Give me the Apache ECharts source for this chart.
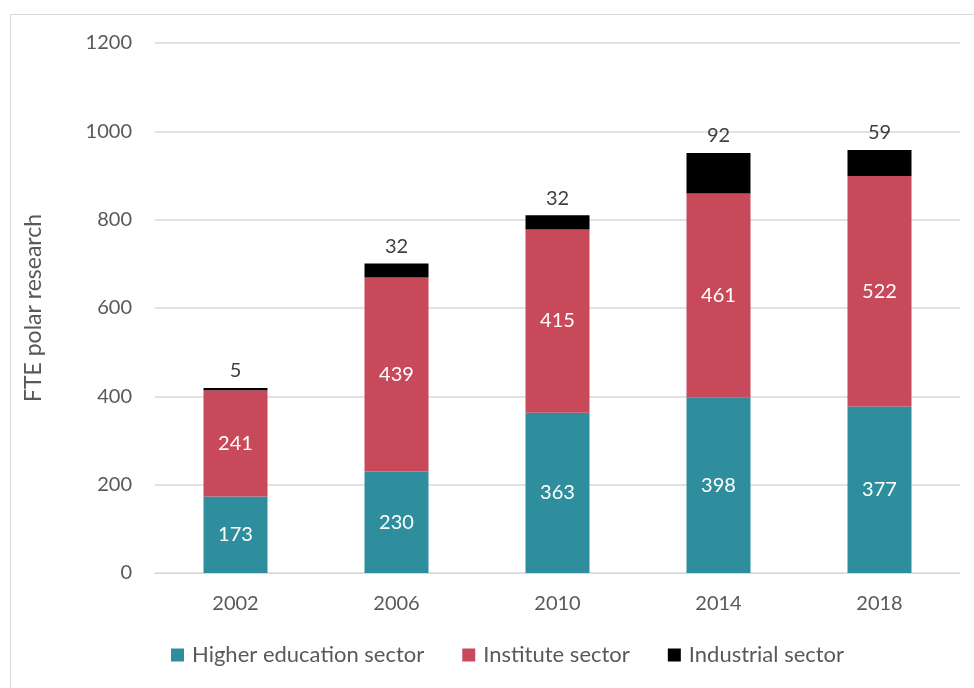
<!DOCTYPE html>
<html>
<head>
<meta charset="utf-8">
<script src="https://cdn.jsdelivr.net/npm/echarts@6/dist/echarts.min.js"></script>
<style>
  html, body { margin: 0; padding: 0; background: #fff; }
  #chart { width: 974px; height: 688px; }
</style>
</head>
<body>
<div id="chart"></div>
<script>
// Full-time equivalents in polar research, by sector
const years = ['2002', '2006', '2010', '2014', '2018'];
const higherEducation = [173, 230, 363, 398, 377];
const institute = [241, 439, 415, 461, 522];
const industrial = [5, 32, 32, 92, 59];
const yTicks = { min: 0, max: 1200, interval: 200 };

const FONT = 'Lato';
const TEXT = '#595959';

const chart = echarts.init(document.getElementById('chart'), null, { renderer: 'canvas' });

const insideLabel = {
  show: true,
  position: 'inside',
  color: '#ffffff',
  fontFamily: FONT,
  fontSize: 20
};

chart.setOption({
  animation: false,
  backgroundColor: '#ffffff',
  textStyle: { fontFamily: FONT },
  graphic: [{
    type: 'rect',
    shape: { x: 10.5, y: 14.5, width: 1200, height: 1200 },
    style: { fill: 'none', stroke: '#d9d9d9', lineWidth: 1 },
    silent: true
  }],
  grid: { left: 155, right: 14, top: 43, bottom: 115, containLabel: false },
  legend: {
    bottom: 17,
    left: 166,
    itemWidth: 13,
    itemHeight: 13,
    itemGap: 38,
    icon: 'rect',
    textStyle: { color: TEXT, fontFamily: FONT, fontSize: 22, padding: [0, 0, 0, 3] },
    data: ['Higher education sector', 'Institute sector', 'Industrial sector']
  },
  xAxis: {
    type: 'category',
    data: years,
    axisLine: { show: true, lineStyle: { color: '#d9d9d9', width: 1 } },
    axisTick: { show: false },
    axisLabel: { color: TEXT, fontFamily: FONT, fontSize: 20, margin: 21 }
  },
  yAxis: {
    type: 'value',
    min: yTicks.min,
    max: yTicks.max,
    interval: yTicks.interval,
    name: 'FTE polar research',
    nameLocation: 'middle',
    nameGap: 110,
    nameTextStyle: { color: TEXT, fontFamily: FONT, fontSize: 23 },
    axisLine: { show: false },
    axisTick: { show: false },
    axisLabel: {
      color: TEXT, fontFamily: FONT, fontSize: 20, margin: 23,
      formatter: v => String(v)
    },
    splitLine: { lineStyle: { color: '#d9d9d9', width: 1.5 } }
  },
  series: [
    {
      name: 'Higher education sector',
      type: 'bar',
      stack: 'fte',
      barWidth: 64,
      itemStyle: { color: '#2e8e9e' },
      label: insideLabel,
      data: higherEducation
    },
    {
      name: 'Institute sector',
      type: 'bar',
      stack: 'fte',
      barWidth: 64,
      itemStyle: { color: '#c8495a' },
      label: insideLabel,
      data: institute
    },
    {
      name: 'Industrial sector',
      type: 'bar',
      stack: 'fte',
      barWidth: 64,
      itemStyle: { color: '#000000' },
      label: {
        show: true,
        position: 'top',
        distance: 7,
        color: '#404040',
        fontFamily: FONT,
        fontSize: 20
      },
      data: industrial
    }
  ]
});
</script>
</body>
</html>
